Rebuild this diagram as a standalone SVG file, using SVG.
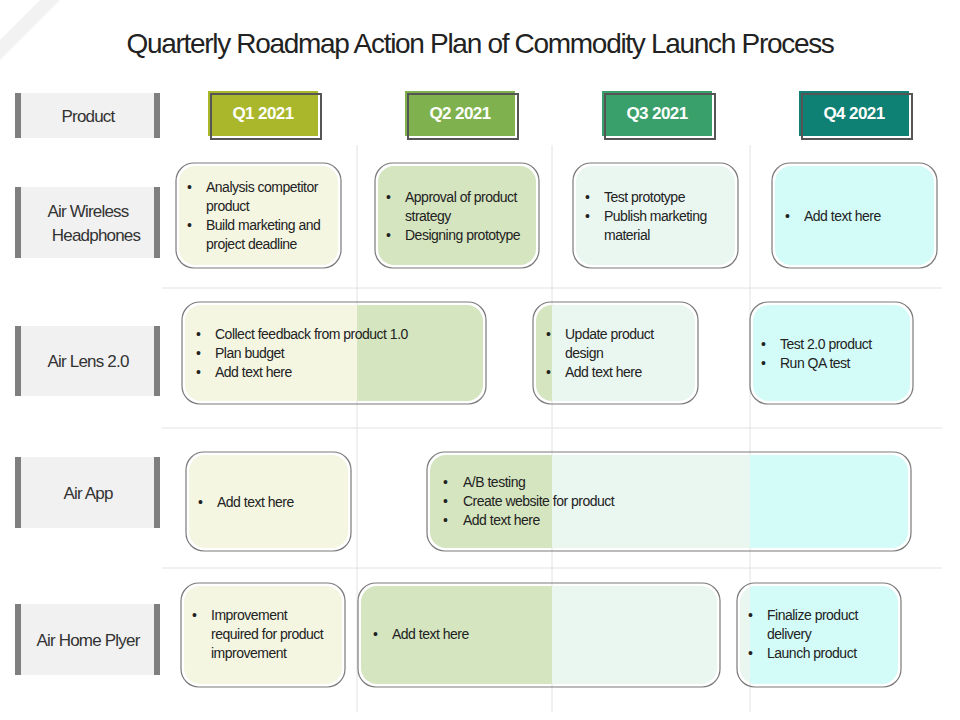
<svg xmlns="http://www.w3.org/2000/svg" width="960" height="720" viewBox="0 0 960 720">
<style>
text{font-family:"Liberation Sans",Arial,sans-serif;fill:#222}
.t{font-size:14px;letter-spacing:-0.5px}
.lbl{font-size:17px;text-anchor:middle;fill:#333;letter-spacing:-0.8px}
.q{font-size:17px;font-weight:bold;fill:#fff;text-anchor:middle;letter-spacing:-0.6px}
.lb{fill:#f1f1f1}
.bar{fill:#7f7f7f}
.grid{stroke:#e2e2e2;stroke-width:1}
.box{fill:none;stroke:#7a7a7a;stroke-width:1.2}
.c1{fill:#f4f6e2}.c2{fill:#d5e5c0}.c3{fill:#eaf6f0}.c4{fill:#d3fcf8}
</style>
<defs>
<g id="cols">
<rect x="0" y="0" width="357" height="720" class="c1"/>
<rect x="357" y="0" width="195" height="720" class="c2"/>
<rect x="552" y="0" width="198" height="720" class="c3"/>
<rect x="750" y="0" width="210" height="720" class="c4"/>
</g>
</defs>
<rect width="960" height="720" fill="#fff"/>
<path d="M0 40 L40 0 L60 0 L0 60 Z" fill="#f2f2f2"/>
<text x="480" y="53" font-size="28" text-anchor="middle" fill="#222" letter-spacing="-1.3">Quarterly Roadmap Action Plan of Commodity Launch Process</text>
<g id="grid">
<line class="grid" x1="162" y1="288" x2="942" y2="288"/>
<line class="grid" x1="162" y1="428" x2="942" y2="428"/>
<line class="grid" x1="162" y1="568" x2="942" y2="568"/>
<line class="grid" x1="357" y1="145" x2="357" y2="712"/>
<line class="grid" x1="552" y1="145" x2="552" y2="712"/>
<line class="grid" x1="750" y1="145" x2="750" y2="712"/>
</g>
<g id="labels">
<g id="lbl-product"><rect class="lb" x="15" y="93" width="145" height="45"/><rect class="bar" x="15" y="93" width="6" height="45"/><rect class="bar" x="154" y="93" width="6" height="45"/><text class="lbl" x="88" y="122">Product</text></g>
<g id="lbl-headphones"><rect class="lb" x="15" y="187" width="145" height="71"/><rect class="bar" x="15" y="187" width="6" height="71"/><rect class="bar" x="154" y="187" width="6" height="71"/><text class="lbl" x="88" y="217">Air Wireless</text><text class="lbl" x="96" y="241">Headphones</text></g>
<g id="lbl-lens"><rect class="lb" x="15" y="326" width="145" height="70"/><rect class="bar" x="15" y="326" width="6" height="70"/><rect class="bar" x="154" y="326" width="6" height="70"/><text class="lbl" x="88" y="367">Air Lens 2.0</text></g>
<g id="lbl-app"><rect class="lb" x="15" y="457" width="145" height="71"/><rect class="bar" x="15" y="457" width="6" height="71"/><rect class="bar" x="154" y="457" width="6" height="71"/><text class="lbl" x="88" y="499">Air App</text></g>
<g id="lbl-home"><rect class="lb" x="15" y="604" width="145" height="71"/><rect class="bar" x="15" y="604" width="6" height="71"/><rect class="bar" x="154" y="604" width="6" height="71"/><text class="lbl" x="88" y="646">Air Home Plyer</text></g>
</g>
<g id="quarters">
<g id="q1"><rect x="208" y="91" width="110" height="45" fill="#aab72b"/><rect x="211" y="94" width="110" height="45" fill="none" stroke="#555" stroke-width="2"/><text class="q" x="263" y="119">Q1 2021</text></g>
<g id="q2"><rect x="405" y="91" width="110" height="45" fill="#7fb24e"/><rect x="408" y="94" width="110" height="45" fill="none" stroke="#555" stroke-width="2"/><text class="q" x="460" y="119">Q2 2021</text></g>
<g id="q3"><rect x="602" y="91" width="110" height="45" fill="#3aa06b"/><rect x="605" y="94" width="110" height="45" fill="none" stroke="#555" stroke-width="2"/><text class="q" x="657" y="119">Q3 2021</text></g>
<g id="q4"><rect x="799" y="91" width="110" height="45" fill="#0f8074"/><rect x="802" y="94" width="110" height="45" fill="none" stroke="#555" stroke-width="2"/><text class="q" x="854" y="119">Q4 2021</text></g>
</g>
<defs>
<clipPath id="k1"><rect x="179" y="166" width="159" height="99" rx="16"/></clipPath>
<clipPath id="k2"><rect x="378" y="166" width="158" height="99" rx="16"/></clipPath>
<clipPath id="k3"><rect x="576" y="166" width="159" height="99" rx="16"/></clipPath>
<clipPath id="k4"><rect x="775" y="166" width="159" height="99" rx="16"/></clipPath>
<clipPath id="k5"><rect x="185" y="305" width="298" height="96" rx="16"/></clipPath>
<clipPath id="k6"><rect x="536" y="305" width="159" height="96" rx="16"/></clipPath>
<clipPath id="k7"><rect x="753" y="305" width="157" height="96" rx="16"/></clipPath>
<clipPath id="k8"><rect x="189" y="455" width="159" height="93" rx="16"/></clipPath>
<clipPath id="k9"><rect x="430" y="455" width="478" height="93" rx="16"/></clipPath>
<clipPath id="k10"><rect x="184" y="586" width="158" height="98" rx="16"/></clipPath>
<clipPath id="k11"><rect x="361" y="586" width="356" height="98" rx="16"/></clipPath>
<clipPath id="k12"><rect x="740" y="586" width="158" height="98" rx="16"/></clipPath>
</defs>
<g id="b1"><use href="#cols" clip-path="url(#k1)"/><rect class="box" x="176" y="163" width="165" height="105" rx="18"/>
<text class="t" x="187" y="192">•<tspan x="206">Analysis competitor</tspan></text><text class="t" x="206" y="211">product</text><text class="t" x="187" y="230">•<tspan x="206">Build marketing and</tspan></text><text class="t" x="206" y="249">project deadline</text></g>
<g id="b2"><use href="#cols" clip-path="url(#k2)"/><rect class="box" x="375" y="163" width="164" height="105" rx="18"/>
<text class="t" x="386" y="202">•<tspan x="405">Approval of product</tspan></text><text class="t" x="405" y="221">strategy</text><text class="t" x="386" y="240">•<tspan x="405">Designing prototype</tspan></text></g>
<g id="b3"><use href="#cols" clip-path="url(#k3)"/><rect class="box" x="573" y="163" width="165" height="105" rx="18"/>
<text class="t" x="585" y="202">•<tspan x="604">Test prototype</tspan></text><text class="t" x="585" y="221">•<tspan x="604">Publish marketing</tspan></text><text class="t" x="604" y="240">material</text></g>
<g id="b4"><use href="#cols" clip-path="url(#k4)"/><rect class="box" x="772" y="163" width="165" height="105" rx="18"/>
<text class="t" x="785" y="221">•<tspan x="804">Add text here</tspan></text></g>
<g id="b5"><use href="#cols" clip-path="url(#k5)"/><rect class="box" x="182" y="302" width="304" height="102" rx="18"/>
<text class="t" x="196" y="339">•<tspan x="215">Collect feedback from product 1.0</tspan></text><text class="t" x="196" y="358">•<tspan x="215">Plan budget</tspan></text><text class="t" x="196" y="377">•<tspan x="215">Add text here</tspan></text></g>
<g id="b6"><use href="#cols" clip-path="url(#k6)"/><rect class="box" x="533" y="302" width="165" height="102" rx="18"/>
<text class="t" x="546" y="339">•<tspan x="565">Update product</tspan></text><text class="t" x="565" y="358">design</text><text class="t" x="546" y="377">•<tspan x="565">Add text here</tspan></text></g>
<g id="b7"><use href="#cols" clip-path="url(#k7)"/><rect class="box" x="750" y="302" width="163" height="102" rx="18"/>
<text class="t" x="761" y="349">•<tspan x="780">Test 2.0 product</tspan></text><text class="t" x="761" y="368">•<tspan x="780">Run QA test</tspan></text></g>
<g id="b8"><use href="#cols" clip-path="url(#k8)"/><rect class="box" x="186" y="452" width="165" height="99" rx="18"/>
<text class="t" x="198" y="507">•<tspan x="217">Add text here</tspan></text></g>
<g id="b9"><use href="#cols" clip-path="url(#k9)"/><rect class="box" x="427" y="452" width="484" height="99" rx="18"/>
<text class="t" x="443" y="487">•<tspan x="463">A/B testing</tspan></text><text class="t" x="443" y="506">•<tspan x="463">Create website for product</tspan></text><text class="t" x="443" y="525">•<tspan x="463">Add text here</tspan></text></g>
<g id="b10"><use href="#cols" clip-path="url(#k10)"/><rect class="box" x="181" y="583" width="164" height="104" rx="18"/>
<text class="t" x="192" y="620">•<tspan x="211">Improvement</tspan></text><text class="t" x="211" y="639">required for product</text><text class="t" x="211" y="658">improvement</text></g>
<g id="b11"><use href="#cols" clip-path="url(#k11)"/><rect class="box" x="358" y="583" width="362" height="104" rx="18"/>
<text class="t" x="373" y="639">•<tspan x="392">Add text here</tspan></text></g>
<g id="b12"><use href="#cols" clip-path="url(#k12)"/><rect class="box" x="737" y="583" width="164" height="104" rx="18"/>
<text class="t" x="748" y="620">•<tspan x="767">Finalize product</tspan></text><text class="t" x="767" y="639">delivery</text><text class="t" x="748" y="658">•<tspan x="767">Launch product</tspan></text></g>
</svg>
